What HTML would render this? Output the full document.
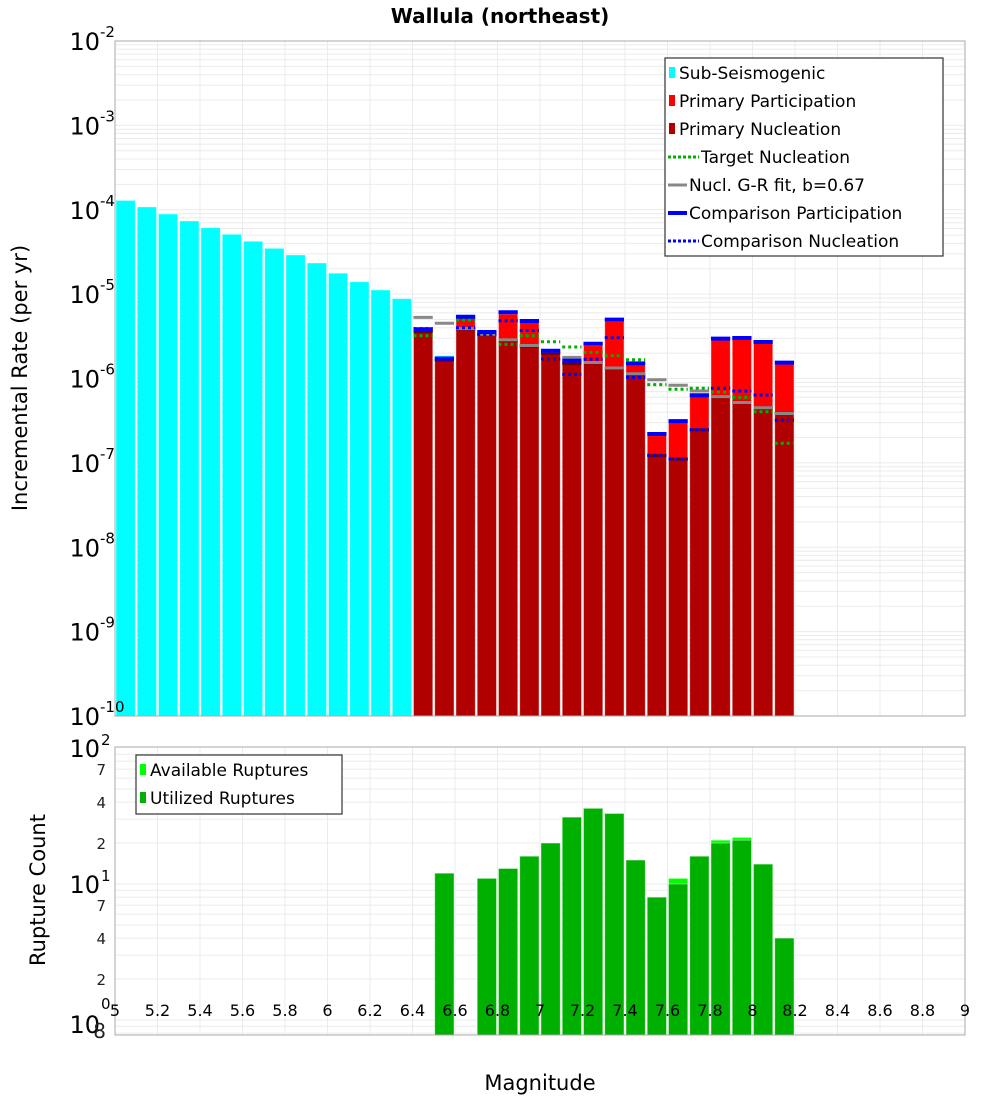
<!DOCTYPE html>
<html><head><meta charset="utf-8"><style>
body{margin:0;background:#fff;}
svg{display:block;font-family:"DejaVu Sans","Liberation Sans",sans-serif;}
</style></head><body>
<svg id="chart" width="1000" height="1100" viewBox="0 0 1000 1100" xmlns="http://www.w3.org/2000/svg">
<text x="500" y="23" text-anchor="middle" font-size="20" font-weight="bold">Wallula (northeast)</text>
<g id="gtop"></g><g id="gbot"></g>
<text transform="translate(27,378) rotate(-90)" text-anchor="middle" font-size="21">Incremental Rate (per yr)</text>
<text transform="translate(45,890) rotate(-90)" text-anchor="middle" font-size="21">Rupture Count</text>
<text x="540" y="1090" text-anchor="middle" font-size="21">Magnitude</text>
</svg>
<script>
// ---- data ----
const subMags = [5.05,5.15,5.25,5.35,5.45,5.55,5.65,5.75,5.85,5.95,6.05,6.15,6.25,6.35,6.55];
const subRates = [1.29e-4,1.08e-4,8.9e-5,7.36e-5,6.13e-5,5.12e-5,4.23e-5,3.49e-5,2.91e-5,2.34e-5,1.77e-5,1.40e-5,1.12e-5,8.83e-6,1.87e-6];
const supMags = [6.45,6.55,6.65,6.75,6.85,6.95,7.05,7.15,7.25,7.35,7.45,7.55,7.65,7.75,7.85,7.95,8.05,8.15];
const primPart = [3.6e-6,1.65e-6,5.2e-6,3.45e-6,5.8e-6,4.6e-6,2.05e-6,1.57e-6,2.45e-6,4.75e-6,1.45e-6,2.1e-7,3.0e-7,6.1e-7,2.85e-6,2.9e-6,2.6e-6,1.48e-6];
const primNucl = [3.6e-6,1.65e-6,3.83e-6,3.37e-6,2.81e-6,2.43e-6,1.99e-6,1.5e-6,1.54e-6,1.32e-6,1.12e-6,1.22e-7,1.11e-7,2.47e-7,6.09e-7,5.23e-7,4.47e-7,3.86e-7];
const targetNucl = [3.21e-6,null,4.93e-6,3.3e-6,2.54e-6,3.21e-6,2.73e-6,2.36e-6,2.04e-6,1.86e-6,1.67e-6,8.45e-7,7.45e-7,7.66e-7,6.92e-7,5.98e-7,4.04e-7,1.71e-7];
const grFit = [5.31e-6,4.51e-6,3.9e-6,3.35e-6,2.87e-6,2.46e-6,2.11e-6,1.78e-6,1.55e-6,1.33e-6,1.14e-6,9.68e-7,8.31e-7,7.11e-7,6.1e-7,5.2e-7,4.5e-7,3.85e-7];
const compPart = [3.83e-6,1.72e-6,5.4e-6,3.56e-6,6.09e-6,4.8e-6,2.13e-6,1.63e-6,2.58e-6,4.98e-6,1.51e-6,2.2e-7,3.13e-7,6.33e-7,2.97e-6,3.02e-6,2.71e-6,1.54e-6];
const compNucl = [3.9e-6,null,4.0e-6,3.3e-6,4.84e-6,3.7e-6,1.7e-6,1.12e-6,1.69e-6,3.05e-6,1.03e-6,1.23e-7,1.11e-7,2.47e-7,7.66e-7,7.11e-7,6.37e-7,3.2e-7];
const cntMags = [6.55,6.75,6.85,6.95,7.05,7.15,7.25,7.35,7.45,7.55,7.65,7.75,7.85,7.95,8.05,8.15];
const availCounts = [12,11,13,16,20,31,36,33,15,8,11,16,21,22,14,4];
const usedCounts = [12,11,13,16,20,31,36,33,15,8,10,16,20,21,14,4];
const xTicks = [5,5.2,5.4,5.6,5.8,6,6.2,6.4,6.6,6.8,7,7.2,7.4,7.6,7.8,8,8.2,8.4,8.6,8.8,9];
const topExps = [-2,-3,-4,-5,-6,-7,-8,-9,-10];
const botMinor = [[70,'7'],[40,'4'],[20,'2'],[7,'7'],[4,'4'],[2,'2'],[0.8,'8']];

// ---- scales ----
const L=115,R=965,T1=41,B1=716,T2=747,B2=1035;
const x = m => L+(m-5)*(R-L)/4;
const yT = v => T1+(-2-Math.log10(v))*(B1-T1)/8;
const yB = v => 884-136*(Math.log10(v)-1);
const NS='http://www.w3.org/2000/svg';
function el(tag,attrs,parent,txt){const e=document.createElementNS(NS,tag);for(const k in attrs)e.setAttribute(k,attrs[k]);if(txt!==undefined)e.textContent=txt;parent.appendChild(e);return e;}
const gTop=document.getElementById('gtop'), gBot=document.getElementById('gbot');

function grid(g,T,B,ys){
  const bg=el('rect',{x:L,y:T,width:R-L,height:B-T,fill:'#fff'},g);
  
  
  ys.forEach(y=>{ if(y>T&&y<B) el('line',{x1:L,x2:R,y1:y,y2:y,stroke:'#ebebeb','stroke-width':1},g);});
  xTicks.forEach(t=>el('line',{x1:x(t),x2:x(t),y1:T,y2:B,stroke:'#ebebeb','stroke-width':1},g));
}
let ysT=[];for(let e=-10;e<-2;e++)for(let k=1;k<10;k++)ysT.push(yT(k*Math.pow(10,e)));
grid(gTop,T1,B1,ysT);
let ysB=[];[0.1,1,10].forEach(d=>{for(let k=1;k<10;k++)ysB.push(yB(k*d));});
grid(gBot,T2,B2,ysB);

const bw=(R-L)/40;
function bar(g,m,v,fill,yf,base,name){
  const r=el('rect',{x:x(m)-bw/2+1,y:yf(v),width:bw-2,height:base-yf(v),fill:fill,stroke:'rgba(255,255,255,0.5)','stroke-width':0.8},g);
  
  
}
function seg(g,m,v,color,w,dash,name){
  if(v==null)return;
  const s=el('line',{x1:x(m)-bw/2+1,x2:x(m)+bw/2-1,y1:yT(v),y2:yT(v),stroke:color,'stroke-width':w},g);
  if(dash)s.setAttribute('stroke-dasharray',dash);
  
  
}
subMags.forEach((m,i)=>bar(gTop,m,subRates[i],'#00ffff',yT,B1,'sub-seismogenic-bar'));
supMags.forEach((m,i)=>bar(gTop,m,primPart[i],'#ff0000',yT,B1,'primary-participation-bar'));
supMags.forEach((m,i)=>bar(gTop,m,primNucl[i],'#b00000',yT,B1,'primary-nucleation-bar'));
supMags.forEach((m,i)=>seg(gTop,m,primNucl[i],'#700000',3,null,'primary-nucleation-line'));
supMags.forEach((m,i)=>seg(gTop,m,grFit[i],'#888',3,null,'gr-fit-line'));
supMags.forEach((m,i)=>seg(gTop,m,targetNucl[i],'#00b000',3,'3,3','target-nucleation-line'));
supMags.forEach((m,i)=>seg(gTop,m,compPart[i],'#0000ff',4,null,'comparison-participation-line'));
supMags.forEach((m,i)=>seg(gTop,m,compNucl[i],'#0000ff',3,'3,3','comparison-nucleation-line'));
el('rect',{x:L,y:T1,width:R-L,height:B1-T1,fill:'none',stroke:'#aaa'},gTop);

topExps.forEach(e=>{
  const y=yT(Math.pow(10,e));
  const t=el('text',{x:100,y:y+9,'text-anchor':'end','font-size':24},gTop);
  
  
  t.textContent='10';
  const s=el('text',{x:100,y:y-4,'font-size':15},gTop,String(e));
  
  
});

cntMags.forEach((m,i)=>bar(gBot,m,availCounts[i],'#00ff00',yB,B2,'available-ruptures-bar'));
cntMags.forEach((m,i)=>bar(gBot,m,usedCounts[i],'#00b000',yB,B2,'utilized-ruptures-bar'));
el('rect',{x:L,y:T2,width:R-L,height:B2-T2,fill:'none',stroke:'#aaa'},gBot);
[[100,'2'],[10,'1'],[1,'0']].forEach(([v,e])=>{
  const y=Math.max(yB(v),T2);
  const t=el('text',{x:100,y:y+9+(v==1?4:0),'text-anchor':'end','font-size':24},gBot,'10');
  
  
  el('text',{x:101,y:y-3+(v==1?-8:0),'font-size':15},gBot,e);
});
botMinor.forEach(([v,s])=>{
  const t=el('text',{x:106,y:Math.min(yB(v),B2-3)+6,'text-anchor':'end','font-size':(v==0.8?20:15),fill:'#222'},gBot,s);
  
  
});
xTicks.forEach(t=>{
  const tx=el('text',{x:x(t),y:1016,'text-anchor':'middle','font-size':16},gBot,String(t));
  
  
});

function legend(g,x0,y0,w,h,items,name){
  const gg=el('g',{},g);
  
  
  el('rect',{x:x0,y:y0,width:w,height:h,fill:'#fff',stroke:'#333','stroke-width':1.2},gg);
  items.forEach((it,i)=>{
    const cy=y0+15+i*28;
    if(it.type==='box') el('rect',{x:x0+4,y:cy-6,width:6,height:11,fill:it.c},gg);
    else {const l=el('line',{x1:x0+3,x2:x0+(it.dash?34:22),y1:cy,y2:cy,stroke:it.c,'stroke-width':it.w},gg); if(it.dash)l.setAttribute('stroke-dasharray','3,2');}
    const tx=x0+(it.type==='box'?14:(it.dash?36:24));
    const e=el('text',{x:tx,y:cy+6,'font-size':17},gg,it.t);
    
    
  });
}
legend(gTop,665,58,278,198,[
 {type:'box',c:'#00ffff',t:'Sub-Seismogenic'},
 {type:'box',c:'#ff0000',t:'Primary Participation'},
 {type:'box',c:'#b00000',t:'Primary Nucleation'},
 {type:'line',c:'#00b000',w:3,dash:true,t:'Target Nucleation'},
 {type:'line',c:'#888',w:3,t:'Nucl. G-R fit, b=0.67'},
 {type:'line',c:'#0000ff',w:4,t:'Comparison Participation'},
 {type:'line',c:'#0000ff',w:3,dash:true,t:'Comparison Nucleation'}
],'top-legend');
legend(gBot,136,755,206,59,[
 {type:'box',c:'#00ff00',t:'Available Ruptures'},
 {type:'box',c:'#00b000',t:'Utilized Ruptures'}
],'bottom-legend');
</script>
</body></html>
